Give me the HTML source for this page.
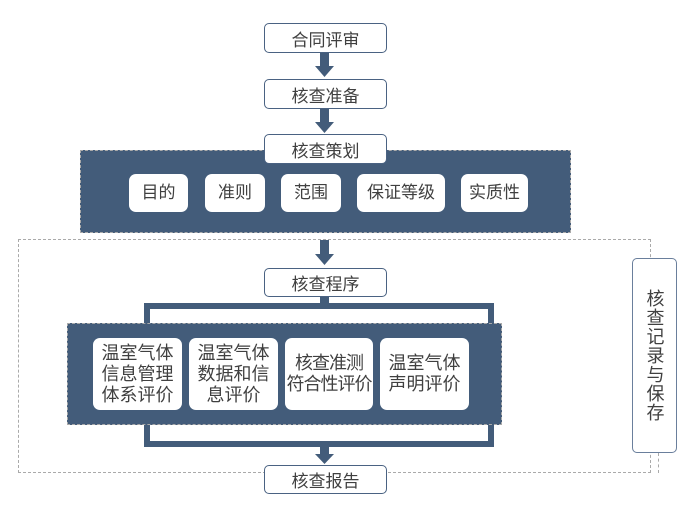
<!DOCTYPE html>
<html><head><meta charset="utf-8"><style>
body{margin:0;width:688px;height:514px;background:#fff;position:relative;overflow:hidden;font-family:"Liberation Sans","Noto Sans CJK SC",sans-serif;color:#404040}
.a{position:absolute;box-sizing:border-box}
.lb{background:#fff;border:1.5px solid #4a6282;border-radius:5px;display:flex;align-items:center;justify-content:center;font-size:17px}
.dk{background:#435c7a;border:1.5px dashed #aaa}
.wb{background:#fff;border-radius:7px;display:flex;align-items:center;justify-content:center;font-size:17px;text-align:center;line-height:20px;white-space:nowrap}
.in{font-size:18px;line-height:21px}
</style></head><body>
<div class="a" style="left:18px;top:239px;width:633px;height:234px;border:1.2px dashed #aaa"></div>
<div class="a" style="left:658px;top:453px;width:0;height:20px;border-left:1.2px dashed #aaa"></div>

<div class="a lb" style="left:264px;top:23px;width:123px;height:30px">合同评审</div>
<svg class="a" style="left:0;top:0" width="688" height="514">
<g fill="#435c7a">
<rect x="320" y="53" width="9" height="14"/><polygon points="315,66 334,66 324.5,77"/>
<rect x="320" y="109" width="9" height="14"/><polygon points="315,122 334,122 324.5,133"/>
<rect x="320" y="240" width="9" height="15"/><polygon points="315,254 334,254 324.5,265"/>
<rect x="320" y="297" width="9" height="10"/>
<rect x="144" y="303" width="350" height="6"/>
<rect x="144" y="303" width="6" height="20"/><rect x="488" y="303" width="6" height="20"/>
<rect x="144" y="425" width="6" height="22"/><rect x="488" y="425" width="6" height="22"/>
<rect x="144" y="441" width="350" height="6"/>
<rect x="320" y="447" width="9" height="8"/><polygon points="315,454 334,454 324.5,464"/>
</g></svg>
<div class="a lb" style="left:264px;top:79px;width:123px;height:30px">核查准备</div>

<div class="a dk" style="left:80px;top:150px;width:491px;height:83px"></div>
<div class="a lb" style="left:264px;top:134px;width:123px;height:30px">核查策划</div>
<div class="a wb" style="left:129px;top:174px;width:59px;height:38px">目的</div>
<div class="a wb" style="left:205px;top:174px;width:60px;height:38px">准则</div>
<div class="a wb" style="left:281px;top:174px;width:60px;height:38px">范围</div>
<div class="a wb" style="left:357px;top:174px;width:88px;height:38px">保证等级</div>
<div class="a wb" style="left:461px;top:174px;width:67px;height:38px">实质性</div>

<div class="a lb" style="left:264px;top:268px;width:123px;height:29px">核查程序</div>

<div class="a dk" style="left:67px;top:323px;width:435px;height:102px"></div>
<div class="a wb in" style="left:93px;top:338px;width:89px;height:72px">温室气体<br>信息管理<br>体系评价</div>
<div class="a wb in" style="left:189px;top:338px;width:89px;height:72px">温室气体<br>数据和信<br>息评价</div>
<div class="a wb in" style="left:285px;top:338px;width:88px;height:72px;letter-spacing:-1px">核查准测<br>符合性评价</div>
<div class="a wb in" style="left:380px;top:338px;width:89px;height:72px">温室气体<br>声明评价</div>

<div class="a lb" style="left:264px;top:465px;width:123px;height:29px">核查报告</div>

<div class="a lb" style="left:632px;top:258px;width:45px;height:195px;writing-mode:vertical-rl;font-size:18px;letter-spacing:1px;border-color:#6a7f9c">核查记录与保存</div>
</body></html>
